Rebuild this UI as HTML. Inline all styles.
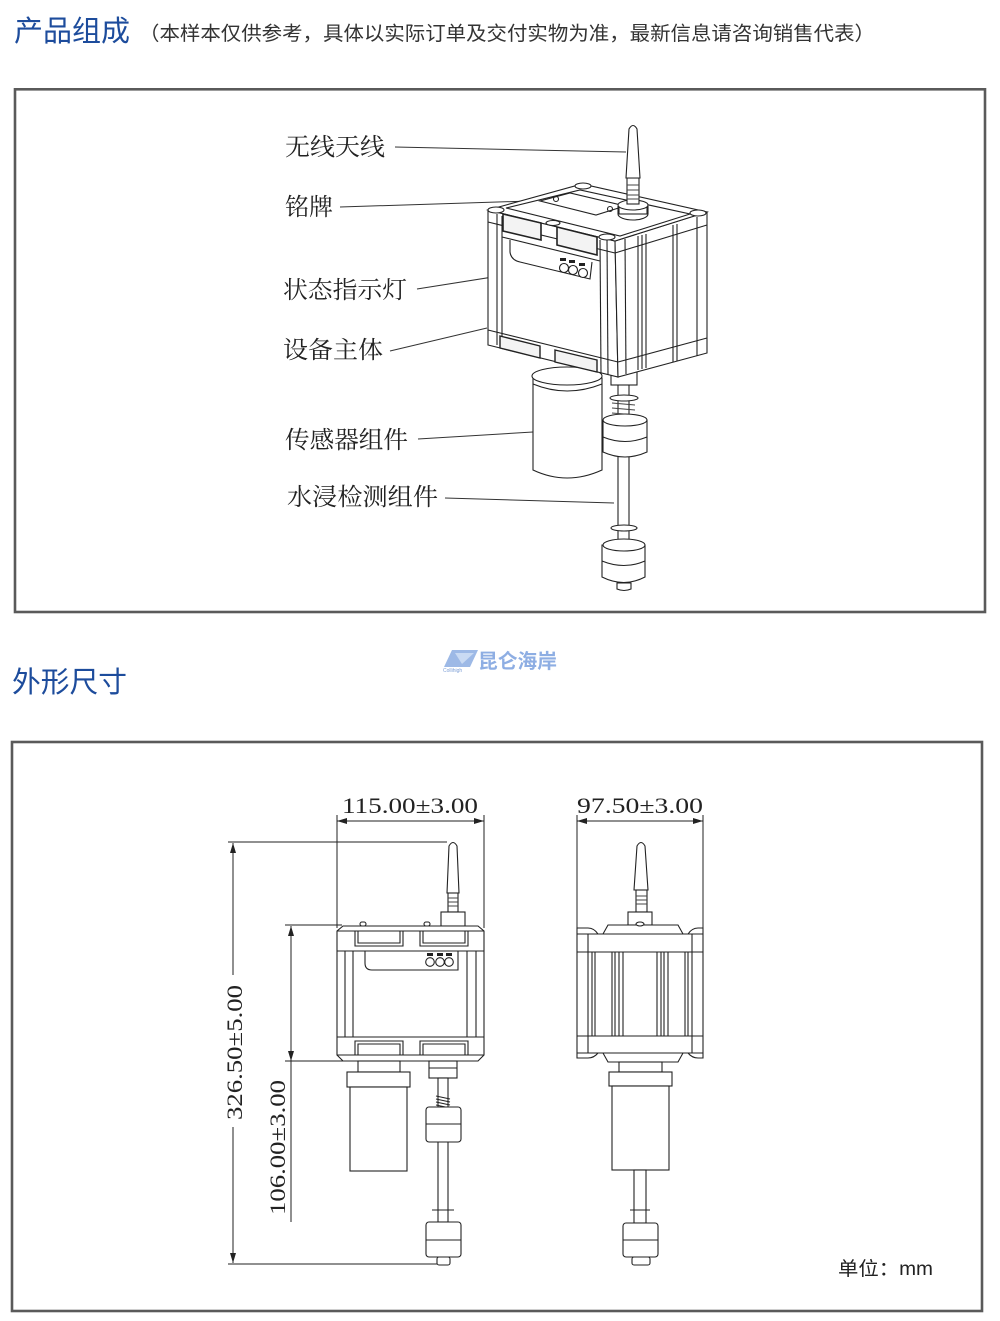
<!DOCTYPE html>
<html><head><meta charset="utf-8"><style>
html,body{margin:0;padding:0;background:#fff;}
svg{display:block;}
.ln{stroke:#222;stroke-width:1.1;fill:none;}
.lf{stroke:#222;stroke-width:1.1;fill:#fff;}
.ld{stroke:#444;stroke-width:0.9;fill:none;}
.lbl{font-family:"Liberation Serif","Noto Serif CJK SC",serif;font-size:24px;fill:#222;}
.dim{font-family:"Liberation Serif","Noto Serif CJK SC",serif;font-size:22px;fill:#222;}
</style></head><body>
<svg width="1000" height="1321" viewBox="0 0 1000 1321" xmlns="http://www.w3.org/2000/svg">
<defs>
<marker id="a" viewBox="0 0 10 6" refX="10" refY="3" markerWidth="10" markerHeight="6" orient="auto" markerUnits="userSpaceOnUse"><path d="M0,0 L10,3 L0,6 Z" fill="#222"/></marker>
</defs>
<rect width="1000" height="1321" fill="#fff"/>

<!-- Headers -->
<text x="14" y="41" font-family="'Liberation Sans','Noto Sans CJK SC',sans-serif" font-size="29" fill="#1d4c9c" textLength="116" lengthAdjust="spacingAndGlyphs">产品组成</text>
<text x="139" y="40" font-family="'Liberation Sans','Noto Sans CJK SC',sans-serif" font-size="19.5" fill="#333" textLength="736" lengthAdjust="spacingAndGlyphs">（本样本仅供参考，具体以实际订单及交付实物为准，最新信息请咨询销售代表）</text>

<rect x="15" y="89.3" width="970" height="522.7" fill="none" stroke="#5a5a5a" stroke-width="2.6"/>

<!-- Labels top panel -->
<text class="lbl" x="285" y="155" textLength="100" lengthAdjust="spacingAndGlyphs">无线天线</text>
<text class="lbl" x="285" y="215" textLength="48" lengthAdjust="spacingAndGlyphs">铭牌</text>
<text class="lbl" x="283" y="298" textLength="124" lengthAdjust="spacingAndGlyphs">状态指示灯</text>
<text class="lbl" x="283" y="358" textLength="100" lengthAdjust="spacingAndGlyphs">设备主体</text>
<text class="lbl" x="285" y="448" textLength="123" lengthAdjust="spacingAndGlyphs">传感器组件</text>
<text class="lbl" x="287" y="505" textLength="151" lengthAdjust="spacingAndGlyphs">水浸检测组件</text>
<g stroke="#333" stroke-width="1" fill="none">
<line x1="395" y1="147" x2="626" y2="152"/>
<line x1="340" y1="207" x2="530" y2="201"/>
<line x1="417" y1="289" x2="556" y2="267"/>
<line x1="390" y1="351" x2="487" y2="328"/>
<line x1="418" y1="439" x2="533" y2="432"/>
<line x1="445" y1="498" x2="614" y2="503"/>
</g>

<!-- 3D device: lower parts -->
<g>
<!-- sensor cylinder -->
<path class="lf" d="M533,378 L533,470 Q567,486 602,470 L602,378 Z"/>
<ellipse class="lf" cx="567" cy="376" rx="35" ry="9"/>
<path class="ln" d="M533,384 Q567,398 602,384"/>
<!-- float shaft -->
<rect class="lf" x="618" y="383" width="11" height="200"/>
<path class="ld" d="M612,398 L635,400 M612,403 L635,405 M612,408 L635,410 M612,413 L635,415"/>
<ellipse class="lf" cx="624" cy="398" rx="14" ry="3"/>
<!-- upper float -->
<path class="lf" d="M603,420 L603,452 Q625,462 647,452 L647,420 Z"/>
<ellipse class="lf" cx="625" cy="420" rx="22" ry="6"/>
<path class="ln" d="M603,437 Q625,446 647,437" stroke-width="2"/>
<!-- washer -->
<ellipse class="lf" cx="624" cy="528" rx="13" ry="3"/>
<!-- lower float -->
<path class="lf" d="M602,545 L602,577 Q624,588 645,577 L645,545 Z"/>
<ellipse class="lf" cx="624" cy="545" rx="21" ry="6"/>
<path class="ln" d="M602,561 Q624,570 645,561" stroke-width="2"/>
<path class="lf" d="M617,583 L617,589 Q624,592 631,589 L631,583 Z"/>
<!-- connector under box -->
<rect class="lf" x="611" y="368" width="26" height="17"/>
</g>

<!-- 3D device: box -->
<g>
<!-- left face -->
<polygon class="lf" points="488,210 615,241 618,377 488,345"/>
<!-- right face -->
<polygon class="lf" points="615,241 707,212 707,353 618,377"/>
<!-- top face -->
<polygon class="lf" points="488,210 582,184 707,212 615,241"/>
<polygon class="ln" points="506,208 580,190 690,214 620,236"/>
<!-- nameplate -->
<polygon class="ln" points="540,201 570,193 625,206 596,215"/>
<circle class="ln" cx="556" cy="199" r="2.5"/>
<circle class="ln" cx="610" cy="209" r="2.5"/>
<!-- corner caps -->
<ellipse class="lf" cx="496" cy="210" rx="8" ry="3"/>
<ellipse class="lf" cx="583" cy="186" rx="8" ry="3"/>
<ellipse class="lf" cx="698" cy="213" rx="8" ry="3"/>
<ellipse class="lf" cx="607" cy="237" rx="8" ry="3"/>
<ellipse class="lf" cx="553" cy="223" rx="7" ry="2.5"/>
<!-- top band lines left face -->
<line class="ln" x1="488" y1="222" x2="615" y2="253"/>
<line class="ln" x1="502" y1="237" x2="600" y2="261"/>
<!-- windows top -->
<polygon points="503,214 541,223 541,240 503,231" fill="#f3f3f3" stroke="#222" stroke-width="1.6"/>
<polygon points="557,227 597,237 597,255 557,245" fill="#f3f3f3" stroke="#222" stroke-width="1.6"/>
<!-- posts -->
<line class="ln" x1="497" y1="214" x2="497" y2="345"/>
<line class="ln" x1="502" y1="216" x2="502" y2="346"/>
<line class="ln" x1="600" y1="240" x2="601" y2="373"/>
<line class="ln" x1="607" y1="240" x2="608" y2="375"/>
<line class="ln" x1="625" y1="239" x2="626" y2="374"/>
<!-- right face ribs -->
<line class="ln" x1="638" y1="236" x2="638" y2="370"/>
<line class="ln" x1="642" y1="235" x2="642" y2="369"/>
<line class="ln" x1="646" y1="234" x2="646" y2="368"/>
<line class="ln" x1="673" y1="225" x2="673" y2="362"/>
<line class="ln" x1="677" y1="224" x2="677" y2="361"/>
<line class="ln" x1="697" y1="217" x2="697" y2="356"/>
<line class="ln" x1="615" y1="253" x2="707" y2="225"/>
<line class="ln" x1="618" y1="362" x2="707" y2="338"/>
<!-- label recess -->
<path class="ln" d="M510,240 L510,252 Q511,260 520,262 L590,279 L592,262"/>
<!-- LEDs -->
<rect x="560" y="258" width="6" height="3" fill="#222"/>
<rect x="569" y="260" width="6" height="3" fill="#222"/>
<rect x="579" y="263" width="6" height="3" fill="#222"/>
<circle class="lf" cx="564" cy="268" r="4.5"/>
<circle class="lf" cx="573" cy="270" r="4.5"/>
<circle class="lf" cx="583" cy="273" r="4.5"/>
<!-- bottom band -->
<line class="ln" x1="488" y1="330" x2="618" y2="362"/>
<polygon points="500,336 540,346 540,358 500,348" fill="#f3f3f3" stroke="#222" stroke-width="1.4"/>
<polygon points="555,350 597,360 597,372 555,362" fill="#f3f3f3" stroke="#222" stroke-width="1.4"/>
<!-- antenna -->
<ellipse class="lf" cx="633" cy="214" rx="15" ry="6"/>
<rect class="lf" x="619" y="205" width="28" height="9" stroke="none"/>
<line class="ln" x1="618" y1="206" x2="618" y2="214"/>
<line class="ln" x1="648" y1="206" x2="648" y2="214"/>
<ellipse class="lf" cx="633" cy="205" rx="15" ry="5"/>
<rect class="lf" x="627" y="178" width="12" height="26"/>
<path class="ld" d="M627,185 L639,185 M627,190 L639,190 M627,195 L639,195 M627,199 L639,199"/>
<path class="lf" d="M629,129 Q633,122 637,129 L640,178 L626,178 Z"/>
</g>

<!-- Section 2 header -->
<text x="12" y="692" font-family="'Liberation Sans','Noto Sans CJK SC',sans-serif" font-size="29" fill="#1d4c9c" textLength="115" lengthAdjust="spacingAndGlyphs">外形尺寸</text>

<!-- Logo -->
<g>
<polygon points="452,650 478,650 470,667 444,667" fill="#9db9e6"/>
<polygon points="455,653 474,653 462,664" fill="#c9daf3"/>
<text x="443" y="672" font-family="'Liberation Sans',sans-serif" font-size="5" fill="#7fa0d6">Collihigh</text>
<text x="478" y="668" font-family="'Liberation Sans','Noto Sans CJK SC',sans-serif" font-size="20" font-weight="bold" fill="#8eaee3" textLength="79" lengthAdjust="spacingAndGlyphs">昆仑海岸</text>
</g>

<rect x="12" y="742" width="970" height="569" fill="none" stroke="#5a5a5a" stroke-width="2.6"/>

<!-- Dimensions -->
<g stroke="#222" stroke-width="1" fill="none">
<!-- 115 -->
<line x1="337" y1="815" x2="337" y2="928"/>
<line x1="484" y1="815" x2="484" y2="928"/>
<line x1="347" y1="821" x2="337" y2="821" marker-end="url(#a)"/>
<line x1="347" y1="821" x2="474" y2="821"/>
<line x1="474" y1="821" x2="484" y2="821" marker-end="url(#a)"/>
<!-- 97.5 -->
<line x1="577" y1="815" x2="577" y2="928"/>
<line x1="703" y1="815" x2="703" y2="928"/>
<line x1="587" y1="821" x2="577" y2="821" marker-end="url(#a)"/>
<line x1="587" y1="821" x2="693" y2="821"/>
<line x1="693" y1="821" x2="703" y2="821" marker-end="url(#a)"/>
<!-- 326.5 -->
<line x1="228" y1="842" x2="447" y2="842"/>
<line x1="228" y1="1264" x2="440" y2="1264"/>
<line x1="233" y1="853" x2="233" y2="843" marker-end="url(#a)"/>
<line x1="233" y1="853" x2="233" y2="975"/>
<line x1="233" y1="1127" x2="233" y2="1253"/>
<line x1="233" y1="1253" x2="233" y2="1263" marker-end="url(#a)"/>
<!-- 106 -->
<line x1="285" y1="925" x2="342" y2="925"/>
<line x1="285" y1="1061" x2="343" y2="1061"/>
<line x1="291" y1="936" x2="291" y2="926" marker-end="url(#a)"/>
<line x1="291" y1="936" x2="291" y2="1051"/>
<line x1="291" y1="1051" x2="291" y2="1061" marker-end="url(#a)"/>
<line x1="291" y1="1061" x2="291" y2="1222"/>
</g>
<text class="dim" x="342" y="813" textLength="136" lengthAdjust="spacingAndGlyphs">115.00±3.00</text>
<text class="dim" x="577" y="813" textLength="126" lengthAdjust="spacingAndGlyphs">97.50±3.00</text>
<text class="dim" transform="translate(242,1120) rotate(-90)" x="0" y="0" textLength="135" lengthAdjust="spacingAndGlyphs">326.50±5.00</text>
<text class="dim" transform="translate(285,1215) rotate(-90)" x="0" y="0" textLength="135" lengthAdjust="spacingAndGlyphs">106.00±3.00</text>

<!-- Front view -->
<g>
<!-- antenna -->
<path class="lf" d="M449,846 Q453,839 457,846 L459,893 L447,893 Z"/>
<rect class="lf" x="448" y="893" width="10" height="19"/>
<path class="ld" d="M448,898 L458,898 M448,902 L458,902 M448,906 L458,906"/>
<rect class="lf" x="441" y="912" width="24" height="14"/>
<!-- box -->
<rect class="lf" x="360" y="922" width="6" height="4" rx="2"/>
<rect class="lf" x="424" y="922" width="6" height="4" rx="2"/>
<path class="lf" d="M343,926 L478,926 L484,931 L484,1055 L478,1061 L343,1061 L337,1055 L337,931 Z"/>
<line class="ln" x1="337" y1="931" x2="484" y2="931"/>
<line class="ln" x1="337" y1="951" x2="484" y2="951"/>
<line class="ln" x1="337" y1="1037" x2="484" y2="1037"/>
<line class="ln" x1="337" y1="1055" x2="484" y2="1055"/>
<path class="ln" d="M355,931 L355,946 L403,946 L403,931 M358,931 L358,943 L400,943 L400,931"/>
<path class="ln" d="M420,931 L420,946 L468,946 L468,931 M423,931 L423,943 L465,943 L465,931"/>
<path class="ln" d="M355,1055 L355,1041 L403,1041 L403,1055 M358,1055 L358,1044 L400,1044 L400,1055"/>
<path class="ln" d="M420,1055 L420,1041 L468,1041 L468,1055 M423,1055 L423,1044 L465,1044 L465,1055"/>
<line class="ln" x1="345" y1="951" x2="345" y2="1037"/>
<line class="ln" x1="353" y1="951" x2="353" y2="1037"/>
<line class="ln" x1="467" y1="951" x2="467" y2="1037"/>
<line class="ln" x1="476" y1="951" x2="476" y2="1037"/>
<path class="ln" d="M365,951 L365,963 Q365,970 372,970 L458,970 L458,951"/>
<rect x="427" y="953" width="6" height="3" fill="#222"/>
<rect x="437" y="953" width="6" height="3" fill="#222"/>
<rect x="446" y="953" width="6" height="3" fill="#222"/>
<circle class="lf" cx="430" cy="962" r="4.3"/>
<circle class="lf" cx="440" cy="962" r="4.3"/>
<circle class="lf" cx="449" cy="962" r="4.3"/>
<!-- sensor -->
<rect class="lf" x="358" y="1061" width="42" height="11"/>
<rect class="lf" x="347" y="1072" width="63" height="15"/>
<rect class="lf" x="350" y="1087" width="57" height="84"/>
<!-- float -->
<rect class="lf" x="429" y="1061" width="28" height="17"/>
<line class="ln" x1="429" y1="1068" x2="457" y2="1068"/>
<rect class="lf" x="438" y="1078" width="10" height="144"/>
<path class="ln" d="M436,1096 L450,1099 M436,1099 L450,1102 M436,1102 L450,1105 M436,1105 L450,1108"/>
<rect class="lf" x="426" y="1107" width="35" height="35" rx="3"/>
<line class="ln" x1="426" y1="1124" x2="461" y2="1124" stroke-width="1.8"/>
<line class="ln" x1="432" y1="1210" x2="454" y2="1210" stroke-width="1.5"/>
<rect class="lf" x="426" y="1222" width="35" height="35" rx="3"/>
<line class="ln" x1="426" y1="1240" x2="461" y2="1240" stroke-width="1.8"/>
<rect class="lf" x="437" y="1257" width="13" height="8" rx="2"/>
</g>

<!-- Side view -->
<g>
<path class="lf" d="M637,846 Q641,839 645,846 L648,890 L634,890 Z"/>
<rect class="lf" x="636" y="890" width="11" height="22"/>
<path class="ld" d="M636,896 L647,896 M636,900 L647,900 M636,904 L647,904"/>
<rect class="lf" x="628" y="912" width="24" height="13"/>
<path class="lf" d="M577,928 L588,928 Q594,928 598,934 L603,934 L608,925 L678,925 L683,934 L688,934 Q692,928 698,928 L703,928 L703,1058 L698,1058 Q692,1058 688,1053 L683,1053 L678,1062 L608,1062 L603,1053 L598,1053 Q594,1058 588,1058 L577,1058 Z"/>
<line class="ln" x1="577" y1="934" x2="703" y2="934"/>
<line class="ln" x1="577" y1="952" x2="703" y2="952"/>
<line class="ln" x1="577" y1="1036" x2="703" y2="1036"/>
<line class="ln" x1="577" y1="1053" x2="703" y2="1053"/>
<line class="ln" x1="588" y1="934" x2="588" y2="1053"/>
<line class="ln" x1="692" y1="934" x2="692" y2="1053"/>
<line class="ln" x1="592" y1="952" x2="592" y2="1036"/>
<line class="ln" x1="595" y1="952" x2="595" y2="1036"/>
<line class="ln" x1="612" y1="952" x2="612" y2="1036"/>
<line class="ln" x1="615" y1="952" x2="615" y2="1036"/>
<line class="ln" x1="619" y1="952" x2="619" y2="1036"/>
<line class="ln" x1="623" y1="952" x2="623" y2="1036"/>
<line class="ln" x1="657" y1="952" x2="657" y2="1036"/>
<line class="ln" x1="661" y1="952" x2="661" y2="1036"/>
<line class="ln" x1="664" y1="952" x2="664" y2="1036"/>
<line class="ln" x1="668" y1="952" x2="668" y2="1036"/>
<line class="ln" x1="685" y1="952" x2="685" y2="1036"/>
<line class="ln" x1="688" y1="952" x2="688" y2="1036"/>
<ellipse class="lf" cx="640" cy="924" rx="4" ry="2"/>
<rect class="lf" x="619" y="1062" width="43" height="10"/>
<rect class="lf" x="609" y="1072" width="63" height="14"/>
<rect class="lf" x="612" y="1086" width="57" height="84"/>
<rect class="lf" x="634" y="1170" width="12" height="53"/>
<line class="ln" x1="630" y1="1210" x2="650" y2="1210" stroke-width="1.5"/>
<rect class="lf" x="623" y="1223" width="35" height="34" rx="3"/>
<line class="ln" x1="623" y1="1240" x2="658" y2="1240" stroke-width="1.8"/>
<rect class="lf" x="632" y="1257" width="18" height="8" rx="2"/>
</g>

<text x="838" y="1275" font-family="'Liberation Sans','Noto Sans CJK SC',sans-serif" font-size="19" fill="#222" textLength="95" lengthAdjust="spacingAndGlyphs">单位：mm</text>
</svg>
</body></html>
